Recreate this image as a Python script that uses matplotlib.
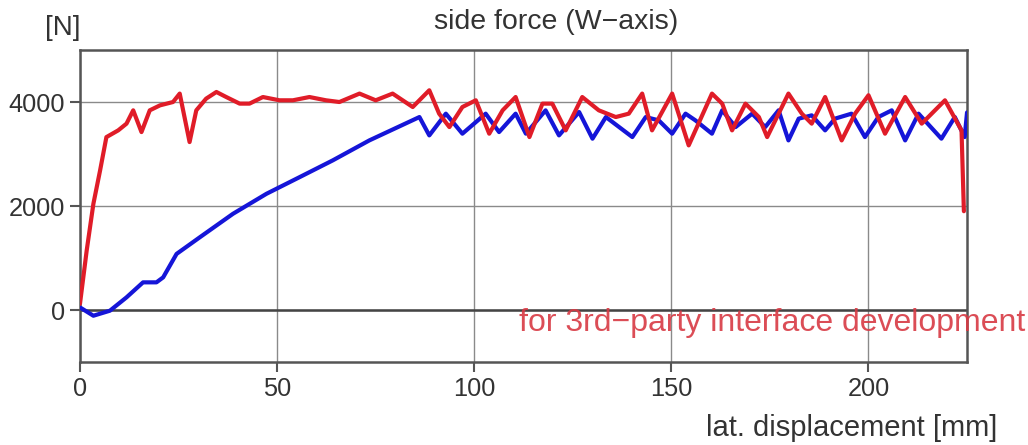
import numpy as np
import matplotlib.pyplot as plt

plt.rcParams['font.family'] = ['Liberation Sans', 'DejaVu Sans']

# red trace (side force, first run)
red_x = [0, 1.7, 3.4, 5.1, 6.7, 9.7, 11.8, 13.5, 15.6, 17.7, 20.3, 23.6, 25.3,
         27.8, 29.5, 32.0, 34.6, 37.1, 40.5, 43.0, 46.4, 50.6, 54.0, 58.2, 62.4,
         65.8, 70.9, 75.0, 79.3, 84.4, 88.6, 91.1, 93.7, 97.0, 100.4, 103.8,
         107.2, 110.5, 114.0, 117.3, 119.8, 123.2, 127.4, 131.6, 135.9, 139.2,
         142.6, 145.1, 150.2, 154.4, 160.3, 162.9, 165.4, 168.8, 172.2, 174.3,
         179.7, 183.1, 185.6, 189.0, 193.2, 196.6, 200.0, 204.2, 209.3, 213.5,
         219.4, 223.6, 224.2]
red_y = [120, 1143, 2042, 2684, 3325, 3455, 3584, 3840, 3422, 3840, 3936, 4000,
         4162, 3230, 3840, 4065, 4193, 4096, 3969, 3969, 4096, 4033, 4033, 4096,
         4033, 4000, 4162, 4033, 4162, 3904, 4226, 3776, 3518, 3904, 4033, 3391,
         3840, 4096, 3326, 3969, 3969, 3455, 4096, 3840, 3711, 3776, 4162, 3455,
         4162, 3166, 4162, 3969, 3455, 3969, 3711, 3326, 4162, 3776, 3584, 4096,
         3262, 3776, 4130, 3391, 4096, 3584, 4033, 3455, 1900]

# blue trace (side force, second run)
blue_x = [0, 3.4, 7.6, 11.8, 16.0, 19.4, 21.1, 24.5, 30.4, 38.8, 47.3, 55.7,
          64.1, 73.4, 86.1, 88.6, 92.8, 97.0, 102.9, 106.3, 110.5, 113.1, 118.1,
          121.5, 126.6, 130.0, 133.4, 140.1, 143.5, 146.8, 150.2, 153.6, 156.1,
          160.3, 162.9, 166.3, 170.5, 173.8, 177.2, 179.7, 182.3, 185.6, 189.0,
          191.5, 195.7, 199.1, 202.5, 205.9, 209.3, 212.7, 218.5, 221.9, 224.4,
          225.0]
blue_y = [50, -110, -13, 243, 532, 532, 628, 1079, 1399, 1850, 2235, 2555,
          2877, 3262, 3711, 3358, 3776, 3391, 3776, 3422, 3776, 3391, 3840,
          3358, 3808, 3295, 3711, 3326, 3711, 3647, 3391, 3776, 3647, 3391,
          3840, 3518, 3776, 3518, 3840, 3262, 3680, 3744, 3455, 3680, 3776,
          3326, 3711, 3840, 3262, 3776, 3295, 3711, 3326, 3800]

x_ticks = [0, 50, 100, 150, 200]
y_ticks = [0, 2000, 4000]

fig = plt.figure(figsize=(10.28, 4.45), dpi=100)
ax = fig.add_axes([0.0778, 0.1865, 0.8629, 0.7011])

ax.plot(blue_x, blue_y, color='#1515d8', lw=3.0, zorder=3,
        solid_joinstyle='round', solid_capstyle='round')
ax.plot(red_x, red_y, color='#e01c28', lw=3.0, zorder=4,
        solid_joinstyle='round', solid_capstyle='round')

ax.set_xlim(0, 225)
ax.set_ylim(-1000, 5000)
ax.set_xticks(x_ticks)
ax.set_yticks(y_ticks)
ax.grid(True, color='#8a8a8a', lw=1.0)
ax.axhline(0, color='#444444', lw=1.8, zorder=2)

for s in ax.spines.values():
    s.set_color('#555555')
    s.set_linewidth(1.8)
ax.tick_params(direction='out', length=7, width=1.5, color='#555555',
               labelsize=18.3, labelcolor='#333333', pad=4)

fig.text(556 / 1028, 0.95, 'side force (W\u2212axis)', ha='center', va='center',
         fontsize=20.5, color='#333333')
fig.text(63 / 1028, 0.937, '[N]', ha='center', va='center',
         fontsize=20, color='#333333')
fig.text(997 / 1028, 0.038, 'lat. displacement [mm]', ha='right', va='center',
         fontsize=21, color='#333333')
fig.text(1025 / 1028, 0.274, 'for 3rd\u2212party interface development',
         ha='right', va='center', fontsize=23, color='#d83a44', alpha=0.9)

fig.savefig('out.png', dpi=100)
